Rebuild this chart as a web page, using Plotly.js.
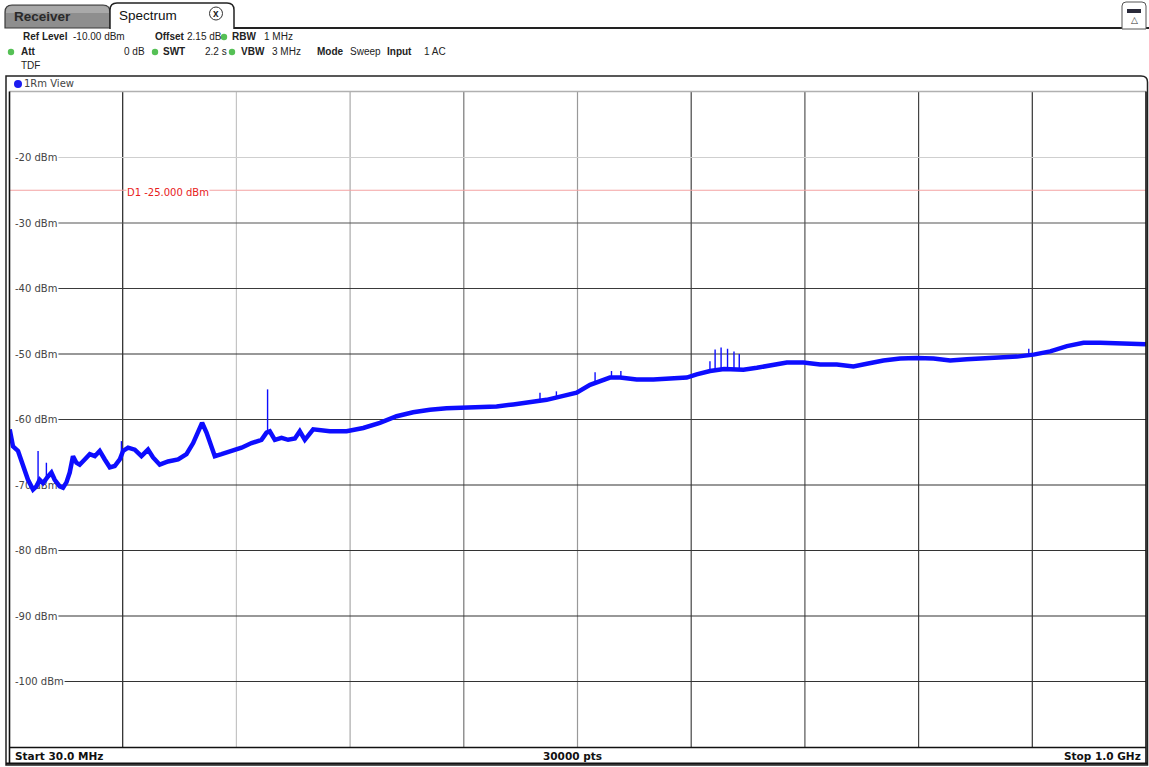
<!DOCTYPE html>
<html>
<head>
<meta charset="utf-8">
<script src="https://cdn.plot.ly/plotly-3.0.1.min.js"></script>
<style>html,body{margin:0;padding:0;background:#fff;}#chart{width:1149px;height:767px;}</style>
</head>
<body>
<div id="chart"></div>
<script>
// ---------- data ----------
// trace body (centre of the noise band)
const freqMHz = [30.6, 33.4, 37.7, 42.0, 46.2, 50.5, 53.4, 56.2, 59.0, 63.3, 66.2, 69.0, 73.3, 76.1, 79.0, 81.8, 84.6, 87.5,
  90.3, 94.6, 98.9, 103.2, 107.4, 111.7, 116.0, 120.2, 124.5, 127.3, 131.6, 137.3, 143.0, 148.6, 152.9, 158.6, 165.7, 174.3, 181.4,
  187.1, 191.3, 194.7, 198.5, 202.8, 205.6, 211.3, 219.8, 228.4, 236.9, 245.4, 249.7, 252.5, 256.8, 262.5, 268.1, 273.9, 278.1, 282.4,
  289.5, 303.7, 318.0, 332.2, 346.4, 360.7, 374.8, 389.1, 403.3, 417.5, 431.8, 446.0, 460.2, 474.4, 488.7, 502.9, 514.3, 525.7, 534.2, 542.7,
  551.3, 565.5, 579.7, 593.9, 608.2, 616.7, 628.1, 640.0, 656.5, 668.0, 679.3,
  693.6, 707.7, 722.0, 736.2, 750.4, 761.9, 776.0, 790.3, 804.5, 818.7, 832.9, 847.2, 861.4, 875.6, 889.9, 904.1, 918.3, 932.6, 946.7, 961.0,
  975.3, 989.4, 1000.0];
const levelDbm = [-61.5, -64.1, -64.8, -67.1, -69.2, -70.7, -70.2, -69.2, -69.7, -68.7, -68.1, -69.2, -70.2, -70.4, -69.6, -68.1, -65.6, -66.6,
  -66.9, -66.1, -65.3, -65.6, -64.8, -66.1, -67.3, -67.1, -66.1, -64.8, -64.3, -64.6, -65.6, -64.6, -65.8, -66.9, -66.4, -66.1, -65.3,
  -63.6, -62.0, -60.5, -62.0, -64.1, -65.6, -65.3, -64.8, -64.3, -63.6, -63.1, -62.0, -61.8, -63.1, -62.8, -63.1, -62.9, -61.8, -63.1,
  -61.5, -61.8, -61.8, -61.3, -60.5, -59.5, -58.9, -58.5, -58.3, -58.2, -58.2, -58.0, -57.7, -57.4, -57.0, -56.4, -55.9, -54.7, -54.2, -53.6,
  -53.6, -53.9, -53.9, -53.8, -53.6, -53.1, -52.6, -52.3, -52.4, -52.1, -51.8,
  -51.3, -51.3, -51.6, -51.6, -51.9, -51.5, -51.0, -50.7, -50.6, -50.7, -51.0, -50.8, -50.7, -50.6, -50.4, -50.1, -49.6, -48.8, -48.3, -48.3,
  -48.4, -48.5, -48.5];
// narrow spurs sticking out of the band
const spurFreqMHz = [54.8, 61.9, 125.9, 250.6, 483.0, 497.0, 530.0, 544.0, 552.0, 628.0, 632.4, 637.5, 643.0, 648.5, 653.0, 900.0];
const spurBaseDbm = [-70.0, -69.5, -66.0, -62.0, -57.2, -56.6, -54.5, -53.6, -53.6, -52.6, -52.4, -52.4, -52.3, -52.3, -52.4, -50.3];
const spurTopDbm  = [-64.8, -66.6, -63.3, -55.4, -55.9, -55.7, -52.8, -52.6, -52.6, -51.1, -49.3, -49.0, -49.2, -49.6, -50.0, -49.2];

const yTickVals = [-20, -30, -40, -50, -60, -70, -80, -90, -100];
const yTickText = ["-20 dBm", "-30 dBm", "-40 dBm", "-50 dBm", "-60 dBm", "-70 dBm", "-80 dBm", "-90 dBm", "-100 dBm"];
const xGridFreqs = [127, 224, 321, 418, 515, 612, 709, 806, 903];
const freqStart = 30, freqStop = 1000;
const refLevel = -10, levelBottom = -110;
const displayLineLevel = -25;
const displayLineLabel = "D1 -25.000 dBm";
const headerRow1 = [["<b>Ref Level</b>", 22], ["-10.00 dBm", 72], ["<b>Offset</b>", 154], ["2.15 dB", 186], ["<b>RBW</b>", 231], ["1 MHz", 263]];
const headerRow2 = [["<b>Att</b>", 20], ["0 dB", 123], ["<b>SWT</b>", 162], ["2.2 s", 204], ["<b>VBW</b>", 240], ["3 MHz", 271], ["<b>Mode</b>", 316], ["Sweep", 349], ["<b>Input</b>", 386], ["1 AC", 423]];
const statusLeft = "Start 30.0 MHz", statusMid = "30000 pts", statusRight = "Stop 1.0 GHz";

// ---------- styling helpers (pixel -> paper) ----------
const ML = 9, MR = 3, MT = 92, MB = 20, W = 1149, H = 767;
const PW = W - ML - MR, PH = H - MT - MB;
const X = px => (px - ML) / PW;
const Y = py => (H - MB - py) / PH;

const vGridColors = ['#222', '#c4c4c4', '#aaa', '#777', '#999', '#444', '#555', '#444', '#333'];
const hGridColors = ['#cfcfcf', '#555', '#3a3a3a', '#333', '#3a3a3a', '#333', '#333', '#333', '#333'];

const shapes = [];
const annotations = [];
function txt(px, py, text, font, xanchor) {
  annotations.push({xref: 'paper', yref: 'paper', x: X(px), y: Y(py), xanchor: xanchor || 'left', yanchor: 'middle',
    text: text, showarrow: false, font: font, borderpad: 0});
}

// grid lines
xGridFreqs.forEach((f, i) => shapes.push({type: 'line', layer: 'below', xref: 'x', yref: 'paper', x0: f, x1: f, y0: 0, y1: 1,
  line: {color: vGridColors[i], width: 1.2}}));
yTickVals.forEach((v, i) => shapes.push({type: 'line', layer: 'below', xref: 'paper', yref: 'y',
  x0: X(15 + yTickText[i].length * 6.2), x1: 1, y0: v, y1: v, line: {color: hGridColors[i], width: 1.2}}));

// display line D1
shapes.push({type: 'line', layer: 'below', xref: 'paper', yref: 'y', x0: 0, x1: 1, y0: displayLineLevel, y1: displayLineLevel,
  line: {color: '#f3a3a3', width: 1}});
annotations.push({xref: 'paper', yref: 'y', x: X(126), y: displayLineLevel, xanchor: 'left', yanchor: 'middle', yshift: -2,
  text: displayLineLabel, showarrow: false, bgcolor: '#fff', borderpad: 0,
  font: {family: 'DejaVu Sans', size: 10, color: '#e8201c'}});

// rounded-top path helper (pixel coords)
function tabPath(x0, y0, x1, y1, r) {
  return `M${X(x0)},${Y(y1)} L${X(x0)},${Y(y0 + r)} Q${X(x0)},${Y(y0)} ${X(x0 + r)},${Y(y0)} L${X(x1 - r)},${Y(y0)} Q${X(x1)},${Y(y0)} ${X(x1)},${Y(y0 + r)} L${X(x1)},${Y(y1)}`;
}
// tabs
shapes.push({type: 'path', xref: 'paper', yref: 'paper', path: tabPath(5, 5, 110, 28, 7) + ' Z', fillcolor: '#8e8e8e', line: {color: '#3a3a3a', width: 1.2}});
shapes.push({type: 'path', xref: 'paper', yref: 'paper', path: tabPath(6, 6, 109, 13, 6) + ' Z', fillcolor: '#a9a9a9', line: {width: 0}});
shapes.push({type: 'path', xref: 'paper', yref: 'paper', path: tabPath(110, 3, 234, 29, 7), fillcolor: '#fff', line: {color: '#222', width: 1.5}});
shapes.push({type: 'line', xref: 'paper', yref: 'paper', x0: X(234), x1: X(1149), y0: Y(28), y1: Y(28), line: {color: '#222', width: 2}});
shapes.push({type: 'circle', xref: 'paper', yref: 'paper', x0: X(209.5), x1: X(222.5), y0: Y(7), y1: Y(20), line: {color: '#333', width: 1}});
txt(216, 13, '<b>x</b>', {family: 'Liberation Sans', size: 10, color: '#222'}, 'center');
txt(13, 16, '<b>Receiver</b>', {family: 'Liberation Sans', size: 13.5, color: '#2a2a2a'});
txt(118, 15, 'Spectrum', {family: 'Liberation Sans', size: 13.5, color: '#111'});
// top-right icon
shapes.push({type: 'path', xref: 'paper', yref: 'paper', path: tabPath(1122, 2, 1146, 29, 4) + ' Z', fillcolor: '#fff', line: {color: '#555', width: 1}});
shapes.push({type: 'rect', xref: 'paper', yref: 'paper', x0: X(1127), x1: X(1141), y0: Y(9), y1: Y(13), fillcolor: '#2a2a3a', line: {width: 0}});
txt(1134, 20, '△', {family: 'DejaVu Sans', size: 9, color: '#333'}, 'center');

// header rows
const hf = {family: 'Liberation Sans', size: 10, color: '#222'};
headerRow1.forEach(([t, px]) => txt(px, 37, t, hf));
headerRow2.forEach(([t, px]) => txt(px, 52, t, hf));
txt(20, 66, 'TDF', hf);
[[224, 37], [11, 52], [155, 52], [232, 52]].forEach(([cx, cy]) => shapes.push({type: 'circle', xref: 'paper', yref: 'paper',
  x0: X(cx - 3.2), x1: X(cx + 3.2), y0: Y(cy - 3.2), y1: Y(cy + 3.2), fillcolor: '#55c055', line: {width: 0}}));

// frame
shapes.push({type: 'path', xref: 'paper', yref: 'paper',
  path: `M${X(6)},${Y(765)} L${X(6)},${Y(76)} L${X(1141)},${Y(76)} Q${X(1147.5)},${Y(76)} ${X(1147.5)},${Y(82)} L${X(1147.5)},${Y(765)} Z`,
  line: {color: '#222', width: 1.5}});
shapes.push({type: 'line', xref: 'paper', yref: 'paper', x0: X(9.5), x1: X(1146), y0: Y(91.5), y1: Y(91.5), line: {color: '#b0b0b0', width: 1.5}});
shapes.push({type: 'line', xref: 'paper', yref: 'paper', x0: X(9.5), x1: X(9.5), y0: Y(91.5), y1: Y(763), line: {color: '#111', width: 1.6}});
shapes.push({type: 'line', xref: 'paper', yref: 'paper', x0: X(1146), x1: X(1146), y0: Y(91.5), y1: Y(763), line: {color: '#111', width: 1.6}});
shapes.push({type: 'line', xref: 'paper', yref: 'paper', x0: X(9.5), x1: X(1146), y0: Y(747.5), y1: Y(747.5), line: {color: '#111', width: 1.6}});
shapes.push({type: 'line', xref: 'paper', yref: 'paper', x0: X(6), x1: X(1147.5), y0: Y(763.5), y1: Y(763.5), line: {color: '#111', width: 2}});
// view title
shapes.push({type: 'circle', xref: 'paper', yref: 'paper', x0: X(14), x1: X(22), y0: Y(80), y1: Y(88), fillcolor: '#1c1cf0', line: {width: 0}});
txt(23, 84, '1Rm View', {family: 'DejaVu Sans', size: 10, color: '#444'});
// status bar
const sf = {family: 'DejaVu Sans', size: 10.5, color: '#111'};
txt(14, 756, '<b>' + statusLeft + '</b>', sf, 'left');
txt(572, 756, '<b>' + statusMid + '</b>', sf, 'center');
txt(1142, 756, '<b>' + statusRight + '</b>', sf, 'right');

// spur segments built from the spur arrays (gaps between them)
const spurX = [], spurY = [];
spurFreqMHz.forEach((f, i) => { spurX.push(f, f, null); spurY.push(spurBaseDbm[i], spurTopDbm[i], null); });

const traces = [
  {x: freqMHz, y: levelDbm, type: 'scatter', mode: 'lines', line: {color: '#0d0dff', width: 4.5}, hoverinfo: 'none', showlegend: false},
  {x: spurX, y: spurY, type: 'scatter', mode: 'lines', connectgaps: false, line: {color: '#0d0dff', width: 1.4}, hoverinfo: 'none', showlegend: false}
];

const layout = {
  width: W, height: H, margin: {l: ML, r: MR, t: MT, b: MB, pad: 0},
  paper_bgcolor: '#fff', plot_bgcolor: '#fff', showlegend: false,
  xaxis: {range: [freqStart, freqStop], showgrid: false, zeroline: false, showline: false, showticklabels: false, ticks: '', fixedrange: true},
  yaxis: {range: [levelBottom, refLevel], tickvals: yTickVals, ticktext: yTickText, ticklabelposition: 'inside', ticks: '',
    showgrid: false, zeroline: false, showline: false, layer: 'below traces', ticklabelstandoff: 3,
    tickfont: {family: 'DejaVu Sans', size: 10, color: '#444'}, fixedrange: true},
  shapes: shapes, annotations: annotations
};
Plotly.newPlot('chart', traces, layout, {displayModeBar: false, staticPlot: true});
</script>
</body>
</html>
